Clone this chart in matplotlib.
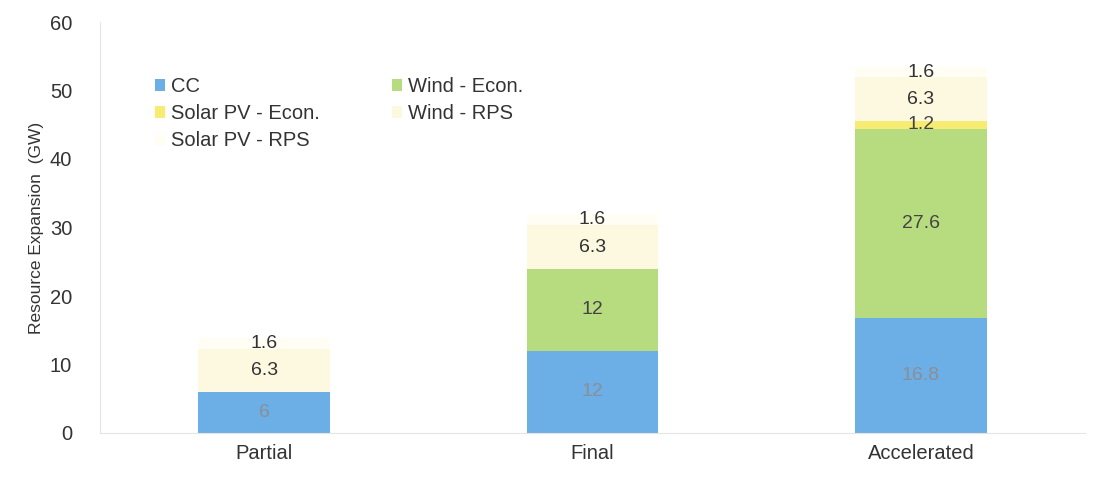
import numpy as np
import matplotlib.pyplot as plt
from matplotlib.patches import Patch

plt.rcParams['font.family'] = ['Liberation Sans', 'DejaVu Sans']

cases = ['Partial', 'Final', 'Accelerated']
cc = [6, 12, 16.8]
wind_econ = [0, 12, 27.6]
solar_econ = [0, 0, 1.2]
wind_rps = [6.3, 6.3, 6.3]
solar_rps = [1.6, 1.6, 1.6]

series = [
    ('CC', cc, '#6caee6', '#8a8f96'),
    ('Wind - Econ.', wind_econ, '#b7dc80', '#444444'),
    ('Solar PV - Econ.', solar_econ, '#f6ec74', '#444444'),
    ('Wind - RPS', wind_rps, '#fdf8e0', '#333333'),
    ('Solar PV - RPS', solar_rps, '#fffdf4', '#333333'),
]

fig = plt.figure(figsize=(11.01, 4.79), dpi=100)
ax = fig.add_axes([100/1101, 46/479, 985/1101, 411/479])

x = np.arange(len(cases))
bottom = np.zeros(len(cases))
handles = {}
for name, vals, col, tcol in series:
    vals = np.array(vals, dtype=float)
    bars = ax.bar(x, vals, 0.4, bottom=bottom, color=col, edgecolor='none')
    handles[name] = Patch(facecolor=col, edgecolor='none')
    for i, v in enumerate(vals):
        if v > 0:
            lbl = ('%g' % v)
            ax.text(x[i], bottom[i] + v/2.0, lbl, ha='center', va='center',
                    fontsize=14, color=tcol)
    bottom += vals

ax.set_xlim(-0.5, 2.5)
ax.set_ylim(0, 60)
ax.set_yticks(range(0, 61, 10))
ax.set_xticks(x)
ax.set_xticklabels(cases)
ax.tick_params(axis='both', length=0, labelsize=14.5, colors='#333333')
ax.tick_params(axis='y', pad=20)
ax.tick_params(axis='x', pad=8)
ax.set_ylabel('Resource Expansion  (GW)', fontsize=12.5, color='#333333', labelpad=4)

for s in ['top', 'right']:
    ax.spines[s].set_visible(False)
ax.spines['left'].set_color('#e4e4e4')
ax.spines['bottom'].set_color('#e4e4e4')

order = ['CC', 'Solar PV - Econ.', 'Solar PV - RPS', 'Wind - Econ.', 'Wind - RPS']
ax.legend([handles[n] for n in order], order, ncol=2, frameon=False,
          loc='upper left', bbox_to_anchor=(0.037, 0.91), fontsize=14.5,
          handlelength=0.5, handleheight=0.5, handletextpad=0.3,
          columnspacing=3.6, labelspacing=0.4, labelcolor='#333333')

plt.savefig('out.png', dpi=100)
